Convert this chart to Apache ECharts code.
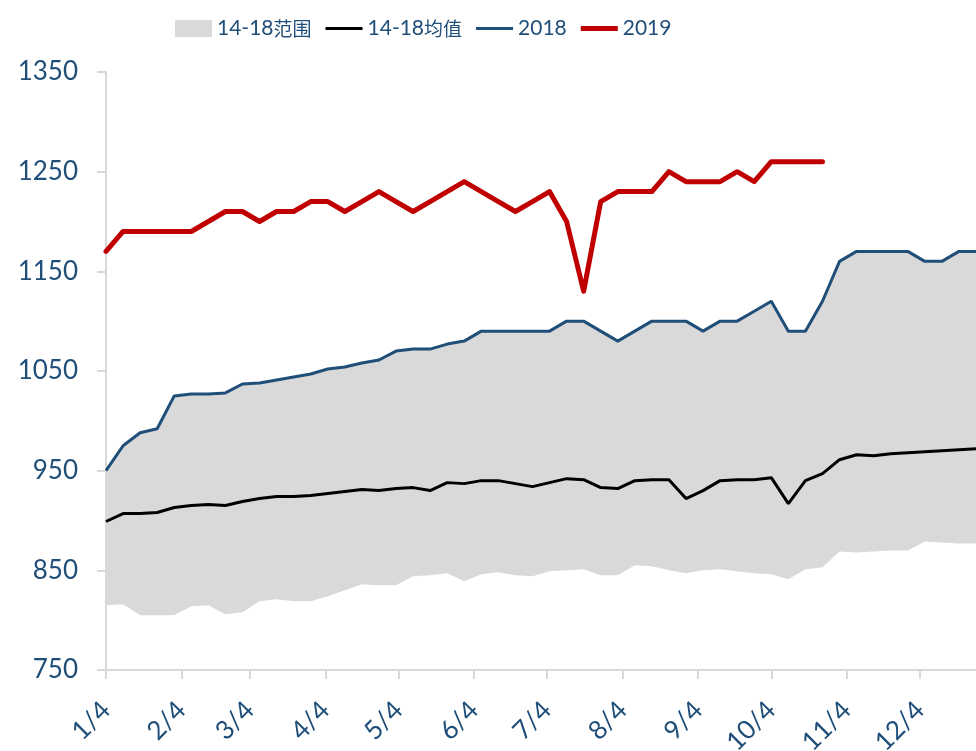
<!DOCTYPE html>
<html>
<head>
<meta charset="utf-8">
<script src="https://cdn.jsdelivr.net/npm/echarts@6/dist/echarts.min.js"></script>
<style>
html,body{margin:0;padding:0;background:#fff;}
#chart{width:976px;height:751px;}
</style>
</head>
<body>
<div id="chart"></div>
<script>
// weekly observation dates (2019)
const weekDates = ['1/4','1/11','1/18','1/25','2/1','2/8','2/15','2/22','3/1','3/8','3/15','3/22','3/29',
  '4/5','4/12','4/19','4/26','5/3','5/10','5/17','5/24','5/31','6/7','6/14','6/21','6/28',
  '7/5','7/12','7/19','7/26','8/2','8/9','8/16','8/23','8/30','9/6','9/13','9/20','9/27',
  '10/4','10/11','10/18','10/25','11/1','11/8','11/15','11/22','11/29','12/6','12/13','12/20','12/27'];
// x-axis tick labels
const monthLabels = ['1/4','2/4','3/4','4/4','5/4','6/4','7/4','8/4','9/4','10/4','11/4','12/4'];
// y-axis range
const yMin = 750, yMax = 1350, yStep = 100;

const rangeMax = [950,975,988,992,1025,1027,1027,1028,1037,1038,
  1041,1044,1047,1052,1054,1058,1061,1070,1072,1072,
  1077,1080,1090,1090,1090,1090,1090,1100,1100,1090,
  1080,1090,1100,1100,1100,1090,1100,1100,1110,1120,
  1090,1090,1120,1160,1170,1170,1170,1170,1160,1160,
  1170,1170];
const rangeMin = [815,816,805,805,805,814,815,806,808,819,
  821,819,819,824,830,836,835,835,844,845,
  847,839,846,848,845,844,849,850,851,845,
  845,855,854,850,847,850,851,849,847,846,
  841,851,853,869,868,869,870,870,879,878,
  877,877];
const mean1418 = [899,907,907,908,913,915,916,915,919,922,
  924,924,925,927,929,931,930,932,933,930,
  938,937,940,940,937,934,938,942,941,933,
  932,940,941,941,922,930,940,941,941,943,
  917,940,947,961,966,965,967,968,969,970,
  971,972];
const y2018 = [950,975,988,992,1025,1027,1027,1028,1037,1038,
  1041,1044,1047,1052,1054,1058,1061,1070,1072,1072,
  1077,1080,1090,1090,1090,1090,1090,1100,1100,1090,
  1080,1090,1100,1100,1100,1090,1100,1100,1110,1120,
  1090,1090,1120,1160,1170,1170,1170,1170,1160,1160,
  1170,1170];
const y2019 = [1170,1190,1190,1190,1190,1190,1200,1210,1210,1200,
  1210,1210,1220,1220,1210,1220,1230,1220,1210,1220,
  1230,1240,1230,1220,1210,1220,1230,1200,1130,1220,
  1230,1230,1230,1250,1240,1240,1240,1250,1240,1260,
  1260,1260,1260];

// daily category axis from first to last weekly date
const dayCats = [];
(function(){
  let t = Date.UTC(2019,0,4);
  const end = Date.UTC(2019,11,27);
  while (t <= end) {
    const d = new Date(t);
    dayCats.push((d.getUTCMonth()+1) + '/' + d.getUTCDate());
    t += 86400000;
  }
})();
function toPairs(vals){
  return vals.map((v,i)=>[dayCats.indexOf(weekDates[i]), v]);
}
const isMonthTick = (idx, val) => monthLabels.indexOf(val) >= 0;

const TXT = '#1f4e79';
const FONT = "Lato, 'Noto Sans CJK SC', sans-serif";
const GRID_LINE = '#d9d9d9';

const chart = echarts.init(document.getElementById('chart'));
chart.setOption({
  animation: false,
  backgroundColor: '#fff',
  legend: {
    left: 170, top: 13,
    itemWidth: 37, itemHeight: 17, itemGap: 14,
    textStyle: {color: TXT, fontSize: 21, fontFamily: FONT,
      rich: {cn: {color: TXT, fontSize: 19, fontFamily: "'Noto Sans CJK SC', sans-serif"}}},
    formatter: name => name.replace(/([\u4e00-\u9fff]+)/g, '{cn|$1}'),
    data: [
      {name:'14-18范围', icon:'rect', itemStyle:{color:'#d9d9d9'}},
      {name:'14-18均值', icon:'path://M0,0H38V3H0Z', itemStyle:{color:'#000000'}},
      {name:'2018', icon:'path://M0,0H38V3H0Z', itemStyle:{color:'#1f4e79'}},
      {name:'2019', icon:'path://M0,0H38V5H0Z', itemStyle:{color:'#c00000'}}
    ]
  },
  grid: {left: 106, right: 0, top: 72, bottom: 81, outerBoundsMode: 'none', containLabel: false},
  xAxis: {
    type: 'category',
    data: dayCats,
    boundaryGap: false,
    z: 2,
    axisLine: {lineStyle: {color: GRID_LINE, width: 2}},
    axisTick: {show: true, interval: isMonthTick, length: 9, lineStyle: {color: GRID_LINE, width: 2}},
    axisLabel: {interval: isMonthTick, rotate: 45, color: TXT, fontSize: 26, fontFamily: FONT, margin: 36, hideOverlap: false},
    splitLine: {show: false}
  },
  yAxis: {
    type: 'value',
    min: yMin, max: yMax, interval: yStep,
    z: 2,
    axisLine: {show: true, lineStyle: {color: GRID_LINE, width: 2}},
    axisTick: {show: true, length: 9, lineStyle: {color: GRID_LINE, width: 2}},
    axisLabel: {color: TXT, fontSize: 26, fontFamily: FONT, margin: 28, formatter: v => String(v)},
    splitLine: {show: false}
  },
  series: [
    {name:'14-18范围', type:'line', data: toPairs(rangeMax), symbol:'none', z:1,
      color:'#d9d9d9', lineStyle:{width:0, opacity:0},
      areaStyle:{color:'#d9d9d9', opacity:1, origin:'start'}},
    {name:'range-low', type:'line', data: toPairs(rangeMin), symbol:'none', z:1,
      color:'#ffffff', lineStyle:{width:0, opacity:0},
      areaStyle:{color:'#ffffff', opacity:1, origin:'start'}},
    {name:'14-18均值', type:'line', data: toPairs(mean1418), symbol:'none', z:3,
      color:'#000000', lineStyle:{width:3, color:'#000000'}},
    {name:'2018', type:'line', data: toPairs(y2018), symbol:'none', z:3,
      color:'#1f4e79', lineStyle:{width:3, color:'#1f4e79'}},
    {name:'2019', type:'line', data: toPairs(y2019), symbol:'none', z:4,
      color:'#c00000', lineStyle:{width:5, color:'#c00000', cap:'round', join:'round'}}
  ]
});
</script>
</body>
</html>
